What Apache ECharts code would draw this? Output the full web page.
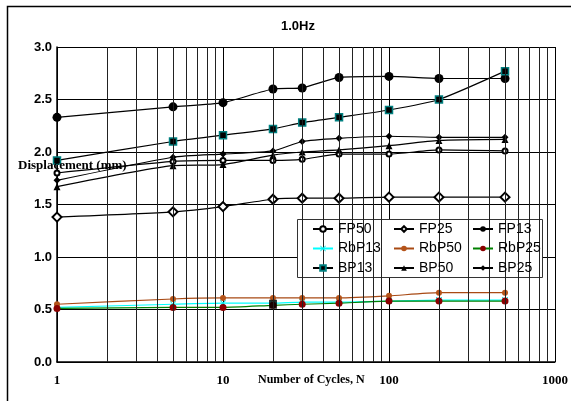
<html>
<head>
<meta charset="utf-8" />
<title>1.0Hz</title>
<script src="https://cdn.jsdelivr.net/npm/echarts@6/dist/echarts.min.js"></script>
<style>
  body { margin: 0; background: #fff; }
  #main { width: 571px; height: 401px; }
</style>
</head>
<body>
<div id="main"></div>
<script type="text/javascript">
// cycles on the log x axis
var cycles = [1, 5, 10, 20, 30, 50, 100, 200, 500];

// displacement (mm) per series
var fp50  = [1.80, 1.91, 1.92, 1.92, 1.93, 1.98, 1.98, 2.02, 2.01];
var fp25  = [1.38, 1.43, 1.48, 1.55, 1.56, 1.56, 1.57, 1.57, 1.57];
var fp13  = [2.33, 2.43, 2.47, 2.60, 2.61, 2.71, 2.72, 2.70, 2.70];
var rbp13 = [0.52, 0.55, 0.56, 0.56, 0.57, 0.57, 0.58, 0.59, 0.59];
var rbp50 = [0.55, 0.60, 0.61, 0.61, 0.61, 0.61, 0.63, 0.66, 0.66];
var rbp25 = [0.51, 0.52, 0.52, 0.54, 0.55, 0.56, 0.58, 0.58, 0.58];
var bp13  = [1.92, 2.10, 2.16, 2.22, 2.28, 2.33, 2.40, 2.50, 2.77];
var bp50  = [1.67, 1.87, 1.88, 1.97, 2.00, 2.02, 2.06, 2.11, 2.12];
var bp25  = [1.73, 1.95, 1.98, 2.01, 2.10, 2.13, 2.15, 2.14, 2.14];

// stray marker at N=20
var stray = [[20, 0.55]];

// minor grid lines of the log axis
var minorX = [2, 3, 4, 5, 6, 7, 8, 9, 20, 30, 40, 50, 60, 70, 80, 90, 200, 300, 400, 500, 600, 700, 800, 900];
var yTicks = [0, 0.5, 1, 1.5, 2, 2.5, 3];

function pairs(vals) {
  return cycles.map(function(c, i) { return [c, vals[i]]; });
}

function line(name, vals, lineColor, symbol, size, itemStyle) {
  return {
    name: name,
    type: 'line',
    smooth: 0.2,
    data: pairs(vals),
    symbol: symbol,
    symbolSize: size,
    showAllSymbol: true,
    lineStyle: { color: lineColor, width: 1.2 },
    itemStyle: itemStyle,
    z: 3
  };
}

var series = [
  line('FP50', fp50, '#000', 'emptyCircle', 5, { color: '#000', borderColor: '#000', borderWidth: 1 }),
  line('FP25', fp25, '#000', 'emptyDiamond', 9, { color: '#000', borderColor: '#000', borderWidth: 1 }),
  line('FP13', fp13, '#000', 'circle', 9, { color: '#000' }),
  line('RbP13', rbp13, '#00ffff', 'path://M0,0L1,0L5,4L9,0L10,0L10,1L6,5L10,9L10,10L9,10L5,6L1,10L0,10L0,9L4,5L0,1Z', 6, { color: '#00e5e5' }),
  line('RbP50', rbp50, '#a84a14', 'circle', 6, { color: '#b5541a' }),
  line('RbP25', rbp25, '#008000', 'circle', 7, { color: '#8b0000' }),
  line('BP13', bp13, '#000', 'rect', 7, { color: '#000', borderColor: '#008080', borderWidth: 1.5 }),
  line('BP50', bp50, '#000', 'triangle', 7, { color: '#000' }),
  line('BP25', bp25, '#000', 'diamond', 7, { color: '#000' }),
  {
    name: 'stray',
    type: 'scatter',
    data: stray,
    symbol: 'rect',
    symbolSize: [8, 9],
    itemStyle: { color: '#000' },
    z: 4
  },
  {
    name: 'grid',
    type: 'line',
    data: [],
    silent: true,
    markLine: {
      silent: true,
      symbol: 'none',
      label: { show: false },
      emphasis: { disabled: true, label: { show: false } },
      lineStyle: { color: '#222', width: 1, type: 'solid' },
      data: minorX.map(function(v) { return { xAxis: v }; })
    },
    z: 1
  }
];

var legendText = { fontFamily: 'Liberation Sans', fontSize: 14, color: '#000', lineHeight: 14 };
function legendCol(left, names) {
  return {
    orient: 'vertical',
    left: left,
    top: 222,
    padding: 0,
    z: 8,
    itemWidth: 20,
    itemHeight: 7,
    itemGap: 5.5,
    textStyle: legendText,
    data: names
  };
}

var myChart = echarts.init(document.getElementById('main'));
var option = {
  animation: false,
  backgroundColor: '#fff',
  grid: { left: 57, right: 16, top: 47, bottom: 39 },
  legend: [
    legendCol(312, ['FP50', 'RbP13', 'BP13']),
    legendCol(393, ['FP25', 'RbP50', 'BP50']),
    legendCol(472, ['FP13', 'RbP25', 'BP25'])
  ],
  xAxis: {
    type: 'log',
    logBase: 10,
    min: 1,
    max: 1000,
    axisLine: { lineStyle: { color: '#000', width: 1.5 } },
    axisTick: { show: false },
    axisLabel: {
      margin: 12,
      fontFamily: 'Liberation Serif',
      fontWeight: 'bold',
      fontSize: 13,
      color: '#000',
      formatter: function(v) { return String(v); }
    },
    splitLine: { show: true, lineStyle: { color: '#000', width: 1 } }
  },
  yAxis: {
    type: 'value',
    min: yTicks[0],
    max: yTicks[yTicks.length - 1],
    interval: 0.5,
    axisLine: { show: true, lineStyle: { color: '#000', width: 1.5 } },
    axisTick: { show: false },
    axisLabel: {
      margin: 5,
      fontFamily: 'Liberation Sans',
      fontWeight: 'bold',
      fontSize: 13,
      color: '#000',
      formatter: function(v) { return v.toFixed(1); }
    },
    splitLine: { show: true, lineStyle: { color: '#000', width: 1 } }
  },
  graphic: [
    {
      type: 'rect',
      shape: { x: 7.5, y: 6.5, width: 620, height: 500 },
      style: { fill: 'none', stroke: '#000', lineWidth: 1.5 },
      silent: true
    },
    {
      type: 'text',
      left: 281,
      top: 20,
      style: { text: '1.0Hz', font: 'bold 13px "Liberation Sans"', fill: '#000' }
    },
    {
      type: 'text',
      left: 18,
      top: 159,
      z: 10,
      style: { text: 'Displacement (mm)', font: 'bold 13px "Liberation Serif"', fill: '#000' }
    },
    {
      type: 'text',
      left: 258,
      top: 374,
      style: { text: 'Number of Cycles, N', font: 'bold 12px "Liberation Serif"', fill: '#000' }
    },
    {
      type: 'rect',
      z: 5,
      shape: { x: 297.5, y: 219.5, width: 245, height: 58 },
      style: { fill: '#fff', stroke: '#333', lineWidth: 1 }
    }
  ],
  series: series
};
myChart.setOption(option);
</script>
</body>
</html>
